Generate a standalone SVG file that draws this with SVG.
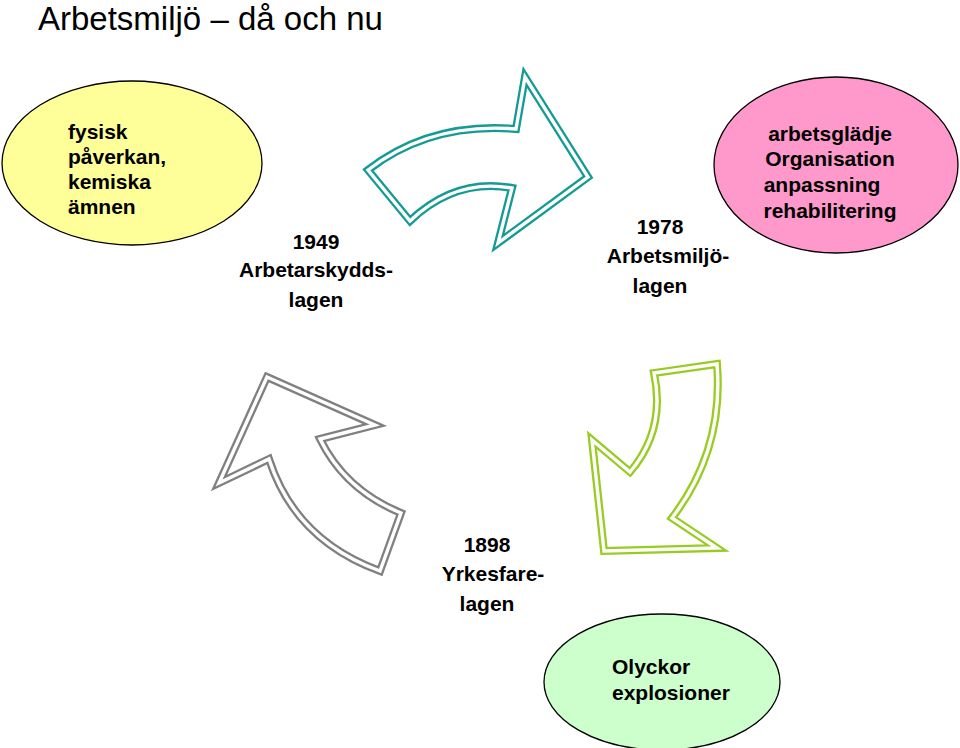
<svg xmlns="http://www.w3.org/2000/svg" width="960" height="748" viewBox="0 0 960 748">
<style>
text{font-family:"Liberation Sans",Arial,sans-serif}
.b{font-weight:bold;font-size:21px}
.c{text-anchor:middle}
.o{fill:#fff;stroke-width:8;stroke-linejoin:miter}
.w{fill:none;stroke:#fff;stroke-width:3.4;stroke-linejoin:miter}
</style>
<rect width="960" height="748" fill="#fff"/>
<text x="38" y="30" font-size="33">Arbetsmiljö – då och nu</text>
<g id="n-fysisk"><ellipse cx="132" cy="163" rx="130" ry="82" fill="#ffff99" stroke="#000" stroke-width="1.3"/>
<text class="b" x="68" y="139">fysisk</text><text class="b" x="68" y="164">påverkan,</text><text class="b" x="68" y="189">kemiska</text><text class="b" x="68" y="214">ämnen</text></g>
<g id="n-arbetsglad"><ellipse cx="836" cy="165" rx="122" ry="88" fill="#ff99cc" stroke="#000" stroke-width="1.3"/>
<text class="b c" x="830" y="141">arbetsglädje</text><text class="b c" x="830" y="166">Organisation</text><text class="b c" x="822" y="192">anpassning</text><text class="b c" x="830" y="218">rehabilitering</text></g>
<g id="n-olyckor"><ellipse cx="662" cy="682" rx="118" ry="68" fill="#ccffcc" stroke="#000" stroke-width="1.3"/>
<text class="b" x="612" y="674">Olyckor</text><text class="b" x="612" y="700">explosioner</text></g>
<g id="n-1949"><text class="b c" x="316" y="249">1949</text><text class="b c" x="316" y="277">Arbetarskydds-</text><text class="b c" x="316" y="307">lagen</text></g>
<g id="n-1978"><text class="b c" x="660" y="234">1978</text><text class="b c" x="668" y="263">Arbetsmiljö-</text><text class="b c" x="660" y="293">lagen</text></g>
<g id="n-1898"><text class="b c" x="487" y="552">1898</text><text class="b c" x="493" y="581">Yrkesfare-</text><text class="b c" x="487" y="611">lagen</text></g>
<g id="connectors">
<path class="o" stroke="#169a94" d="M368,170 Q430,122 516,129 L525,77 L588,177 L498,243 L512,188 Q455,178 410,221 Z"/>
<path class="w" d="M368,170 Q430,122 516,129 L525,77 L588,177 L498,243 L512,188 Q455,178 410,221 Z"/>
<path class="o" stroke="#808080" d="M267,377 L375,425 L320,439 Q345,490 401,513 L380,571 Q295,540 269,459 L219,483 Z"/>
<path class="w" d="M267,377 L375,425 L320,439 Q345,490 401,513 L380,571 Q295,540 269,459 L219,483 Z"/>
<path class="o" stroke="#99cc22" d="M717,364 L654,373 Q666,430 630,472 L592,440 L604,551 L717,548 L672,518 Q724,450 717,364 Z"/>
<path class="w" d="M717,364 L654,373 Q666,430 630,472 L592,440 L604,551 L717,548 L672,518 Q724,450 717,364 Z"/>
</g>
</svg>
